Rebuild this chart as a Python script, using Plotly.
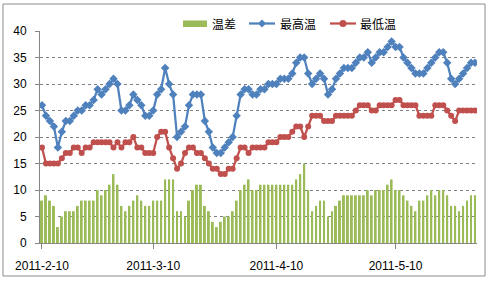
import plotly.graph_objects as go
import pandas as pd

start_date = "2011-02-10"
n_days = 110
dates = pd.date_range(start_date, periods=n_days, freq="D")

high = [26, 24, 23, 22, 18, 21, 23, 23, 24, 25,
        25, 26, 26, 27, 29, 28, 29, 30, 31, 30,
        25, 25, 26, 28, 27, 26, 24, 24, 25, 28,
        29, 33, 30, 28, 20, 21, 22, 26, 28, 28,
        28, 23, 21, 18, 17, 17, 18, 19, 20, 24,
        28, 29, 29, 28, 28, 29, 29, 30, 30, 30,
        31, 31, 31, 32, 34, 35, 35, 32, 30, 31,
        32, 31, 28, 29, 31, 32, 33, 33, 33, 34,
        35, 35, 36, 34, 35, 36, 36, 37, 38, 37,
        37, 35, 34, 33, 32, 32, 32, 33, 34, 35,
        36, 36, 34, 31, 30, 31, 32, 33, 34, 34]

low = [18, 15, 15, 15, 15, 16, 17, 17, 18, 18,
       17, 18, 18, 19, 19, 19, 19, 19, 18, 19,
       18, 19, 19, 20, 18, 18, 17, 17, 17, 20,
       21, 21, 18, 16, 14, 15, 17, 18, 18, 17,
       17, 16, 15, 14, 14, 13, 13, 14, 14, 16,
       18, 18, 17, 18, 18, 18, 18, 19, 19, 19,
       20, 20, 20, 21, 22, 22, 20, 22, 24, 24,
       24, 23, 23, 23, 24, 24, 24, 24, 24, 25,
       26, 26, 26, 25, 25, 26, 26, 26, 26, 27,
       27, 26, 26, 26, 26, 24, 24, 24, 24, 26,
       26, 26, 25, 24, 23, 25, 25, 25, 25, 25]

diff = [8, 9, 8, 7, 3, 5, 6, 6, 6, 7,
        8, 8, 8, 8, 10, 9, 10, 11, 13, 11,
        7, 6, 7, 8, 9, 8, 7, 7, 8, 8,
        8, 12, 12, 12, 6, 6, 5, 8, 10, 11,
        11, 7, 6, 4, 3, 4, 5, 5, 6, 8,
        10, 11, 12, 10, 10, 11, 11, 11, 11, 11,
        11, 11, 11, 11, 12, 13, 15, 10, 6, 7,
        8, 8, 5, 6, 7, 8, 9, 9, 9, 9,
        9, 9, 10, 9, 10, 10, 10, 11, 12, 10,
        10, 9, 8, 7, 6, 8, 8, 9, 10, 9,
        10, 10, 9, 7, 7, 6, 7, 8, 9, 9]

series_names = ["温差", "最高温", "最低温"]
series_colors = ["#9BBB59", "#4F81BD", "#C0504D"]
tick_dates = ["2011-02-10", "2011-03-10", "2011-04-10", "2011-05-10"]
tick_labels = ["2011-2-10", "2011-3-10", "2011-4-10", "2011-5-10"]
y_ticks = [0, 5, 10, 15, 20, 25, 30, 35, 40]

W, H = 489, 288
L, R, T, B = 40, 12, 31, 45
PW, PH = W - L - R, H - T - B


def px(x):
    return (x - L) / PW


def py(y):
    return (H - B - y) / PH


fig = go.Figure()
fig.add_trace(go.Bar(x=dates, y=diff, name=series_names[0],
                     marker=dict(color=series_colors[0], line=dict(width=0))))
fig.add_trace(go.Scatter(x=dates, y=high, name=series_names[1], mode="lines+markers",
                         line=dict(color=series_colors[1], width=2.25),
                         marker=dict(symbol="diamond", size=6.5, color=series_colors[1])))
fig.add_trace(go.Scatter(x=dates, y=low, name=series_names[2], mode="lines+markers",
                         line=dict(color=series_colors[2], width=2.25),
                         marker=dict(symbol="circle", size=6, color=series_colors[2])))

fig.update_layout(
    width=W, height=H,
    margin=dict(l=L, r=R, t=T, b=B),
    bargap=0.5,
    plot_bgcolor="white", paper_bgcolor="white",
    font=dict(family="Liberation Sans, Arial, sans-serif", size=12, color="#000000"),
    showlegend=False,
)
fig.update_xaxes(
    type="date",
    range=["2011-02-09 12:00", "2011-05-30 12:00"],
    tickvals=tick_dates, ticktext=tick_labels,
    ticks="outside", ticklen=5, tickcolor="#868686",
    showline=True, linecolor="#868686", linewidth=1,
    showgrid=False, zeroline=False,
    tickfont=dict(size=12), ticklabelstandoff=7,
)
fig.update_yaxes(
    range=[0, 40], tickvals=y_ticks,
    ticks="outside", ticklen=4, tickcolor="#868686",
    showline=True, linecolor="#868686", linewidth=1,
    showgrid=True, gridcolor="#7f7f7f", griddash="dot", gridwidth=1,
    zeroline=False, tickfont=dict(size=12), ticklabelstandoff=6,
)

# outer chart border
fig.add_shape(type="rect", xref="paper", yref="paper",
              x0=px(3), x1=px(485), y0=py(276), y1=py(4),
              line=dict(color="#8c8c8c", width=1), fillcolor="rgba(0,0,0,0)", layer="below")

# custom legend (Excel-like)
ly = 23.5
fig.add_shape(type="rect", xref="paper", yref="paper",
              x0=px(183), x1=px(207), y0=py(27), y1=py(20.5),
              line=dict(width=0), fillcolor=series_colors[0])
for (x0, x1, col) in [(249, 275, series_colors[1]), (330, 356, series_colors[2])]:
    fig.add_shape(type="line", xref="paper", yref="paper",
                  x0=px(x0), x1=px(x1), y0=py(ly), y1=py(ly),
                  line=dict(color=col, width=2.25))
cx = 262
fig.add_shape(type="path", xref="paper", yref="paper",
              path=f"M {px(cx-4)} {py(ly)} L {px(cx)} {py(ly-4)} L {px(cx+4)} {py(ly)} L {px(cx)} {py(ly+4)} Z",
              line=dict(width=0), fillcolor=series_colors[1])
cx = 343
fig.add_shape(type="circle", xref="paper", yref="paper",
              x0=px(cx-3.5), x1=px(cx+3.5), y0=py(ly+3.5), y1=py(ly-3.5),
              line=dict(width=0), fillcolor=series_colors[2])
for (xl, name) in [(210, series_names[0]), (278, series_names[1]), (358, series_names[2])]:
    fig.add_annotation(xref="paper", yref="paper", x=px(xl), y=py(ly),
                       xanchor="left", yanchor="middle", showarrow=False,
                       text=name, font=dict(family="Noto Sans CJK SC", size=12, color="#000000"))

fig.write_html("out.html")
